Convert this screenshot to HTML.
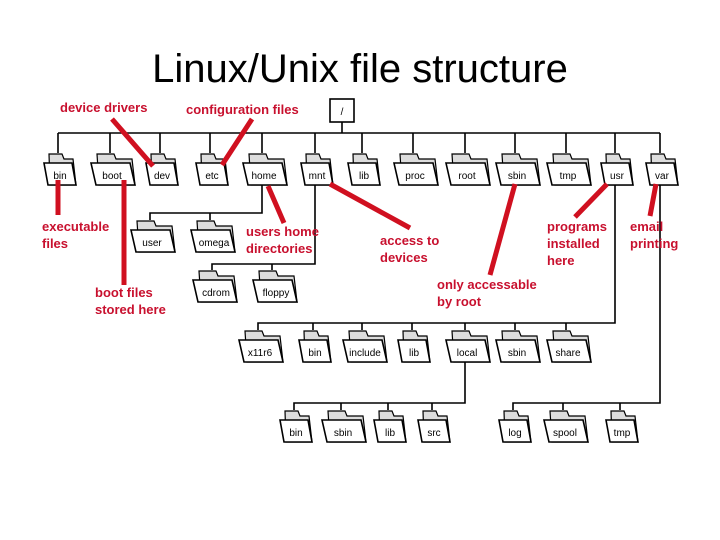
<!DOCTYPE html>
<html><head><meta charset="utf-8"><style>
html,body{margin:0;padding:0;background:#fff}
svg{display:block}
.t{font-family:"Liberation Sans",sans-serif;font-size:10px;text-anchor:middle;fill:#000}
.r{font-family:"Liberation Sans",sans-serif;font-size:13px;font-weight:bold;fill:#c8102e}
.ln{stroke:#000;stroke-width:1.6;fill:none}
.rl{stroke:#d01020;stroke-width:5;fill:none}
</style></head><body>
<svg width="720" height="540" viewBox="0 0 720 540" xmlns="http://www.w3.org/2000/svg">
<defs>
<g id="f">
<polygon points="-9,1 4,1 6,6 15,6 18,32 -8,32" fill="#ddd" stroke="#000" stroke-width="1.2"/>
<polygon points="-14,10 14,10 18,32 -10,32" fill="#fff" stroke="#000" stroke-width="1.6"/>
</g>
<g id="w">
<polygon points="-13,1 4,1 6,6 22,6 25,32 -11,32" fill="#ddd" stroke="#000" stroke-width="1.2"/>
<polygon points="-19,10 20,10 25,32 -14,32" fill="#fff" stroke="#000" stroke-width="1.6"/>
</g>
</defs>
<text x="360" y="82" text-anchor="middle" style="font-family:'Liberation Sans',sans-serif;font-size:40px">Linux/Unix file structure</text>
<rect x="330" y="99" width="24" height="23" fill="#fff" stroke="#000" stroke-width="1.6"/>
<text x="342" y="115" class="t">/</text>
<!-- main lines -->
<path class="ln" d="M342 122V133M58 133H660M58 133v20M110 133v20M160 133v20M210 133v20M262 133v20M315 133v20M362 133v20M413 133v20M465 133v20M515 133v20M566 133v20M615 133v20M660 133v20"/>
<path class="ln" d="M262 185V213H150V220M210 213v7M315 185V264H212V270M272 264v6M615 185V323H258V330M313 323v7M362 323v7M412 323v7M465 323v7M515 323v7M566 323v7M465 360V403H294V410M341 403v7M388 403v7M432 403v7M660 185V403H513V410M563 403v7M620 403v7"/>
<!-- top folders -->
<g transform="translate(58,153)"><use href="#f"/><text x="2" y="26" class="t">bin</text></g>
<g transform="translate(110,153)"><use href="#w"/><text x="2" y="26" class="t">boot</text></g>
<g transform="translate(160,153)"><use href="#f"/><text x="2" y="26" class="t">dev</text></g>
<g transform="translate(210,153)"><use href="#f"/><text x="2" y="26" class="t">etc</text></g>
<g transform="translate(262,153)"><use href="#w"/><text x="2" y="26" class="t">home</text></g>
<g transform="translate(315,153)"><use href="#f"/><text x="2" y="26" class="t">mnt</text></g>
<g transform="translate(362,153)"><use href="#f"/><text x="2" y="26" class="t">lib</text></g>
<g transform="translate(413,153)"><use href="#w"/><text x="2" y="26" class="t">proc</text></g>
<g transform="translate(465,153)"><use href="#w"/><text x="2" y="26" class="t">root</text></g>
<g transform="translate(515,153)"><use href="#w"/><text x="2" y="26" class="t">sbin</text></g>
<g transform="translate(566,153)"><use href="#w"/><text x="2" y="26" class="t">tmp</text></g>
<g transform="translate(615,153)"><use href="#f"/><text x="2" y="26" class="t">usr</text></g>
<g transform="translate(660,153)"><use href="#f"/><text x="2" y="26" class="t">var</text></g>
<!-- home/mnt -->
<g transform="translate(150,220)"><use href="#w"/><text x="2" y="26" class="t">user</text></g>
<g transform="translate(210,220)"><use href="#w"/><text x="4" y="26" class="t">omega</text></g>
<g transform="translate(212,270)"><use href="#w"/><text x="4" y="26" class="t">cdrom</text></g>
<g transform="translate(272,270)"><use href="#w"/><text x="4" y="26" class="t">floppy</text></g>
<!-- usr -->
<g transform="translate(258,330)"><use href="#w"/><text x="2" y="26" class="t">x11r6</text></g>
<g transform="translate(313,330)"><use href="#f"/><text x="2" y="26" class="t">bin</text></g>
<g transform="translate(362,330)"><use href="#w"/><text x="3" y="26" class="t">include</text></g>
<g transform="translate(412,330)"><use href="#f"/><text x="2" y="26" class="t">lib</text></g>
<g transform="translate(465,330)"><use href="#w"/><text x="2" y="26" class="t">local</text></g>
<g transform="translate(515,330)"><use href="#w"/><text x="2" y="26" class="t">sbin</text></g>
<g transform="translate(566,330)"><use href="#w"/><text x="2" y="26" class="t">share</text></g>
<!-- local -->
<g transform="translate(294,410)"><use href="#f"/><text x="2" y="26" class="t">bin</text></g>
<g transform="translate(341,410)"><use href="#w"/><text x="2" y="26" class="t">sbin</text></g>
<g transform="translate(388,410)"><use href="#f"/><text x="2" y="26" class="t">lib</text></g>
<g transform="translate(432,410)"><use href="#f"/><text x="2" y="26" class="t">src</text></g>
<g transform="translate(513,410)"><use href="#f"/><text x="2" y="26" class="t">log</text></g>
<g transform="translate(563,410)"><use href="#w"/><text x="2" y="26" class="t">spool</text></g>
<g transform="translate(620,410)"><use href="#f"/><text x="2" y="26" class="t">tmp</text></g>
<!-- red annotations -->
<path class="rl" d="M112 119L153 166M252 119L222 165M58 180V215M124 180V285M268 186L284 223M330 184L410 228M515 184L490 275M607 184L575 217M656 184L650 216"/>
<text x="60" y="112" class="r">device drivers</text>
<text x="186" y="114" class="r">configuration files</text>
<text x="42" y="231" class="r">executable</text>
<text x="42" y="248" class="r">files</text>
<text x="95" y="297" class="r">boot files</text>
<text x="95" y="314" class="r">stored here</text>
<text x="246" y="236" class="r">users home</text>
<text x="246" y="253" class="r">directories</text>
<text x="380" y="245" class="r">access to</text>
<text x="380" y="262" class="r">devices</text>
<text x="437" y="289" class="r">only accessable</text>
<text x="437" y="306" class="r">by root</text>
<text x="547" y="231" class="r">programs</text>
<text x="547" y="248" class="r">installed</text>
<text x="547" y="265" class="r">here</text>
<text x="630" y="231" class="r">email</text>
<text x="630" y="248" class="r">printing</text>
</svg>
</body></html>
